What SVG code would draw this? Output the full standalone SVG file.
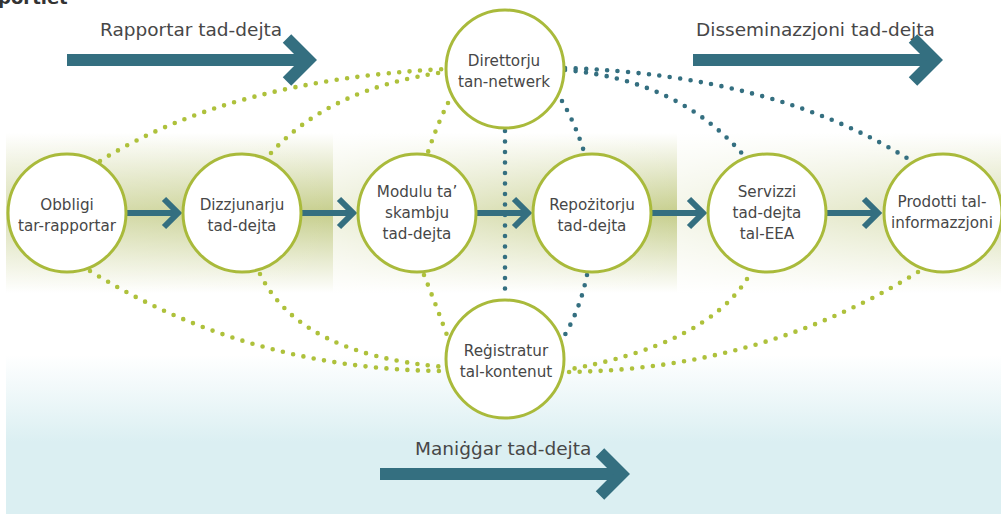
<svg xmlns="http://www.w3.org/2000/svg" width="1001" height="514" viewBox="0 0 1001 514">
<style>
.lbl{font-family:"DejaVu Sans",Verdana,sans-serif;font-size:15.2px;fill:#474747;text-anchor:middle}
.big{font-family:"DejaVu Sans",Verdana,sans-serif;font-size:18.5px;fill:#474747}
.node circle{fill:#fff;stroke:#a9ba3b;stroke-width:3}
.dg{fill:none;stroke:#aec13b;stroke-width:4.6;stroke-linecap:round;stroke-dasharray:0 10.5}
.db{fill:none;stroke:#346f80;stroke-width:4.6;stroke-linecap:round;stroke-dasharray:0 10.5}
.flow{fill:none;stroke:#346f80;stroke-width:6}
.bigarrow{fill:none;stroke:#346f80;stroke-width:12}
</style>
<defs>
<linearGradient id="gv" x1="0" y1="0" x2="0" y2="1">
<stop offset="0" stop-color="#ffffff"/>
<stop offset="0.5" stop-color="#c6ce8c"/>
<stop offset="1" stop-color="#ffffff"/>
</linearGradient>
<linearGradient id="h1" x1="0" y1="0" x2="1" y2="0">
<stop offset="0" stop-color="#fff" stop-opacity="0.35"/>
<stop offset="1" stop-color="#fff" stop-opacity="0"/>
</linearGradient>
<linearGradient id="h2" x1="0" y1="0" x2="1" y2="0">
<stop offset="0" stop-color="#fff" stop-opacity="0.7"/>
<stop offset="1" stop-color="#fff" stop-opacity="0"/>
</linearGradient>
<linearGradient id="h3" x1="0" y1="0" x2="1" y2="0">
<stop offset="0" stop-color="#fff" stop-opacity="0.8"/>
<stop offset="1" stop-color="#fff" stop-opacity="0.35"/>
</linearGradient>
<linearGradient id="bv" x1="0" y1="0" x2="0" y2="1">
<stop offset="0" stop-color="#ffffff"/>
<stop offset="0.55" stop-color="#dbeff2"/>
<stop offset="1" stop-color="#dbeff2"/>
</linearGradient>
</defs>
<rect width="1001" height="514" fill="#fff"/>
<g id="background">
<rect x="6" y="133" width="327" height="160" fill="url(#gv)"/>
<rect x="6" y="133" width="327" height="160" fill="url(#h1)"/>
<rect x="333" y="133" width="344" height="160" fill="url(#gv)"/>
<rect x="333" y="133" width="344" height="160" fill="url(#h2)"/>
<rect x="677" y="133" width="324" height="160" fill="url(#gv)"/>
<rect x="677" y="133" width="324" height="160" fill="url(#h3)"/>
<rect x="6" y="355" width="995" height="159" fill="url(#bv)"/>
</g>
<text x="-2" y="4" style="font-family:'DejaVu Sans',Verdana,sans-serif;font-size:18px;font-weight:bold;fill:#333">portlet</text>
<g id="connectors">
<path class="dg" d="M100,161 Q230,80 445,69"/>
<path class="dg" d="M271,153 Q330,88 445,72"/>
<path class="dg" d="M448,103 Q437,125 427,155"/>
<path class="db" d="M505,131 L505,299"/>
<path class="db" d="M562,101 Q576,125 585,155"/>
<path class="db" d="M565,70 Q680,80 745,157"/>
<path class="db" d="M565,68 Q775,75 910,160"/>
<path class="dg" d="M90,271 Q250,370 445,371"/>
<path class="dg" d="M260,274 Q300,355 445,367"/>
<path class="dg" d="M424,275 Q436,305 448,338"/>
<path class="db" d="M587,275 Q580,310 563,338"/>
<path class="dg" d="M747,279 Q705,345 566,370"/>
<path class="dg" d="M918,272 Q760,370 566,372"/>
<line class="flow" x1="127" y1="213" x2="178" y2="213"/>
<polyline class="flow" points="164,199 178,213 164,227"/>
<line class="flow" x1="302" y1="213" x2="353" y2="213"/>
<polyline class="flow" points="339,199 353,213 339,227"/>
<line class="flow" x1="477" y1="213" x2="528" y2="213"/>
<polyline class="flow" points="514,199 528,213 514,227"/>
<line class="flow" x1="652" y1="213" x2="703" y2="213"/>
<polyline class="flow" points="689,199 703,213 689,227"/>
<line class="flow" x1="827" y1="213" x2="878" y2="213"/>
<polyline class="flow" points="864,199 878,213 864,227"/>
</g>
<g id="n-obbligi" class="node"><circle cx="67" cy="213" r="59"/><text class="lbl" x="67"><tspan x="67" y="210">Obbligi</tspan><tspan x="67" y="231">tar-rapportar</tspan></text></g>
<g id="n-dizzjunarju" class="node"><circle cx="242" cy="213" r="59"/><text class="lbl"><tspan x="242" y="210">Dizzjunarju</tspan><tspan x="242" y="231">tad-dejta</tspan></text></g>
<g id="n-modulu" class="node"><circle cx="417" cy="213" r="59"/><text class="lbl"><tspan x="417" y="197">Modulu ta’</tspan><tspan x="417" y="218">skambju</tspan><tspan x="417" y="239">tad-dejta</tspan></text></g>
<g id="n-repozitorju" class="node"><circle cx="592" cy="213" r="59"/><text class="lbl"><tspan x="592" y="210">Repożitorju</tspan><tspan x="592" y="231">tad-dejta</tspan></text></g>
<g id="n-servizzi" class="node"><circle cx="767" cy="213" r="59"/><text class="lbl"><tspan x="767" y="197">Servizzi</tspan><tspan x="767" y="218">tad-dejta</tspan><tspan x="767" y="239">tal-EEA</tspan></text></g>
<g id="n-prodotti" class="node"><circle cx="943" cy="213" r="59"/><text class="lbl"><tspan x="942" y="207">Prodotti tal-</tspan><tspan x="942" y="228">informazzjoni</tspan></text></g>
<g id="n-direttorju" class="node"><circle cx="505" cy="69" r="59"/><text class="lbl"><tspan x="504" y="66">Direttorju</tspan><tspan x="504" y="87">tan-netwerk</tspan></text></g>
<g id="n-registratur" class="node"><circle cx="505" cy="359" r="59"/><text class="lbl"><tspan x="506" y="356">Reġistratur</tspan><tspan x="506" y="377">tal-kontenut</tspan></text></g>
<g id="phase-reporting">
<text class="big" x="100" y="36">Rapportar tad-dejta</text>
<line class="bigarrow" x1="67" y1="60" x2="306" y2="60"/>
<polyline class="bigarrow" points="287,38.5 308.5,60 287,81.5"/>
</g>
<g id="phase-dissemination">
<text class="big" x="696" y="36">Disseminazzjoni tad-dejta</text>
<line class="bigarrow" x1="693" y1="60" x2="932" y2="60"/>
<polyline class="bigarrow" points="913,38.5 934.5,60 913,81.5"/>
</g>
<g id="phase-management">
<text class="big" x="415" y="455">Maniġġar tad-dejta</text>
<line class="bigarrow" x1="380" y1="474" x2="619" y2="474"/>
<polyline class="bigarrow" points="600,452.5 621.5,474 600,495.5"/>
</g>
</svg>
